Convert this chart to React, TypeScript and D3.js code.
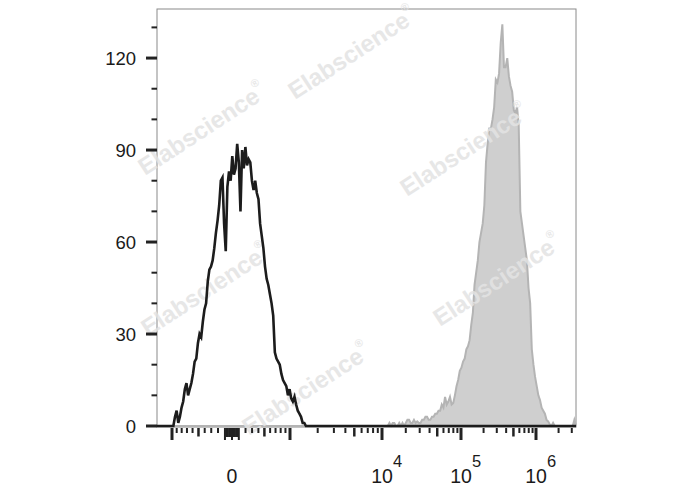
import React from "react";
import * as d3 from "d3";

const W = 688;
const H = 490;

// ---- data ----
const Y_MAJOR = [0, 30, 60, 90, 120];
const Y_MINOR = [10, 20, 40, 50, 70, 80, 100, 110, 130];
const X_MAJOR = [-1e3, 1e3, 1e4, 1e5, 1e6];
const X_MEDIUM = [-500, 500, 5e3, 5e4, 5e5];
const X_MINOR = [
  -900, -800, -700, -600, -400, -300, -200, 200, 300, 400, 600, 700, 800, 900,
  2e3, 3e3, 4e3, 6e3, 7e3, 8e3, 9e3,
  2e4, 3e4, 4e4, 6e4, 7e4, 8e4, 9e4,
  2e5, 3e5, 4e5, 6e5, 7e5, 8e5, 9e5,
  2e6, 3e6,
];
const X_ZERO_BLOCK = [-100, -80, -60, -40, -20, 0, 20, 40, 60, 80, 100];
const X_LABELS = [
  { v: 0, base: "0", exp: "" },
  { v: 1e4, base: "10", exp: "4" },
  { v: 1e5, base: "10", exp: "5" },
  { v: 1e6, base: "10", exp: "6" },
];

const CHANNELS = 256;
const BLACK_START = 9;
const BLACK_COUNTS = [
  0, 0, 3, 5, 1, 3, 6, 8, 12, 14, 10, 12, 14, 17, 21, 22, 27, 30, 29, 34,
  38, 40, 47, 51, 52, 54, 58, 63, 67, 72, 80, 81, 66, 57, 78, 83, 80, 88, 82, 84,
  92, 86, 70, 90, 84, 91, 85, 87, 86, 80, 77, 80, 76, 74, 66, 62, 58, 52, 48, 46,
  43, 40, 36, 24, 22, 21, 20, 17, 15, 14, 13, 10, 12, 9, 8, 9.5, 7, 5, 4, 3,
  1, 1, 0, 0,
];
const GRAY_START = 140;
const GRAY_COUNTS = [
  0, 0, 1, 0, 1, 1, 0, 0, 1, 0, 1, 0, 1, 2, 2, 1, 1, 2, 1, 1.5,
  1, 1, 2, 2, 3, 3, 2, 2, 3, 3, 4, 4, 5, 5, 7, 6, 9.5, 7, 8, 9.5,
  7, 7.5, 10, 13, 15, 18, 19, 21, 22, 25, 26, 28, 33, 37, 46, 50, 54, 60, 63, 66,
  72, 86, 92, 97, 97, 100, 104, 113, 112, 115, 125, 131, 117, 117, 120, 114, 111, 109, 103, 102,
  104, 98, 70, 66, 62, 58, 54, 45, 40, 25, 20, 16, 13, 10, 8.5, 6, 5, 4, 2, 1.5,
  0.5, 0, 1, 0, 0, 0, 0, 0, 0, 0, 0, 0, 0, 0, 0, 2,
];

const WATERMARKS = [
  { cx: 352, cy: 53 },
  { cx: 202, cy: 129 },
  { cx: 464, cy: 150 },
  { cx: 205, cy: 290 },
  { cx: 497, cy: 280 },
  { cx: 306, cy: 389 },
];

// ---- layout ----
const PL = 157, PR = 576, PT = 9, PB = 426;
const FONT = "'Liberation Sans', Arial, Helvetica, sans-serif";

const y = d3.scaleLinear().domain([0, 136]).range([PB, PT]);
const xCh = d3.scaleLinear().domain([0, CHANNELS]).range([PL, PR]);

// logicle-like display: asinh near zero, log above 10^3
const ASINH_C = 845;
const xInner = d3
  .scaleLinear()
  .domain([Math.asinh(-1000 / ASINH_C), 0, Math.asinh(1000 / ASINH_C)])
  .range([172, 232, 290]);
const xOuter = d3.scaleLog().domain([1e3, 1e4, 1e5, 1e6, 1e7]).range([290, 382, 461, 536, 611]);
const xVal = (v: number) => (Math.abs(v) <= 1000 ? xInner(Math.asinh(v / ASINH_C)) : xOuter(v));

function series(start: number, counts: number[]) {
  const pts: [number, number][] = [];
  for (let c = 0; c <= CHANNELS; c++) {
    const i = c - start;
    pts.push([c, i >= 0 && i < counts.length ? counts[i] : 0]);
  }
  return pts;
}

export default function App() {
  const black = series(BLACK_START, BLACK_COUNTS);
  const gray = series(GRAY_START, GRAY_COUNTS);
  const line = d3
    .line<[number, number]>()
    .x((d) => xCh(d[0]))
    .y((d) => y(d[1]));
  const area = d3
    .area<[number, number]>()
    .x((d) => xCh(d[0]))
    .y0(y(0))
    .y1((d) => y(d[1]));

  const tickY0 = PB + 2;
  return (
    <svg
      width={W}
      height={H}
      style={{ position: "absolute", left: 0, top: 0, background: "#fff" }}
      fontFamily={FONT}
    >
      <rect x={0} y={0} width={W} height={H} fill="#fff" />
      <rect x={PL} y={PT} width={PR - PL} height={PB - PT + 1} fill="none" stroke="#8a8a8a" strokeWidth={1} />

      {/* gray filled histogram */}
      <path d={area(gray) || ""} fill="#cfcfcf" stroke="none" />
      <path d={line(gray) || ""} fill="none" stroke="#b4b4b4" strokeWidth={2} />

      {/* watermarks */}
      {WATERMARKS.map((w, i) => (
        <text
          key={i}
          transform={`translate(${w.cx},${w.cy}) rotate(-33)`}
          textAnchor="middle"
          dominantBaseline="central"
          fontSize={24}
          fontWeight="bold"
          fill="#e3e3e3"
          opacity={0.85}
        >
          Elabscience
          <tspan fontSize={11} dy={-10}>®</tspan>
        </text>
      ))}

      {/* black outline histogram */}
      <path d={line(black) || ""} fill="none" stroke="#1c1c1c" strokeWidth={2.6} strokeLinejoin="miter" />

      {/* y axis ticks */}
      {Y_MAJOR.map((v) => (
        <line key={"ym" + v} x1={146} x2={PL} y1={y(v)} y2={y(v)} stroke="#222" strokeWidth={3} />
      ))}
      {Y_MINOR.map((v) => (
        <line key={"yn" + v} x1={151.5} x2={PL} y1={y(v)} y2={y(v)} stroke="#222" strokeWidth={2} />
      ))}
      {Y_MAJOR.map((v) => (
        <text key={"yl" + v} x={136} y={y(v) + 6.5} textAnchor="end" fontSize={18.5} fill="#1a1a1a">
          {v}
        </text>
      ))}

      {/* x axis ticks */}
      {X_MAJOR.map((v) => (
        <line key={"xm" + v} x1={xVal(v)} x2={xVal(v)} y1={tickY0} y2={tickY0 + 12} stroke="#222" strokeWidth={3} />
      ))}
      {X_MEDIUM.map((v) => (
        <line key={"xd" + v} x1={xVal(v)} x2={xVal(v)} y1={tickY0} y2={tickY0 + 8.5} stroke="#222" strokeWidth={2.5} />
      ))}
      {X_MINOR.map((v) => (
        <line key={"xn" + v} x1={xVal(v)} x2={xVal(v)} y1={tickY0} y2={tickY0 + 5} stroke="#222" strokeWidth={2} />
      ))}
      {X_ZERO_BLOCK.map((v, i) => (
        <line
          key={"xz" + v}
          x1={xVal(v)}
          x2={xVal(v)}
          y1={tickY0}
          y2={tickY0 + (i % 5 === 0 ? 12 : 9)}
          stroke="#222"
          strokeWidth={2}
        />
      ))}
      {X_LABELS.map((l) => (
        <g key={"xl" + l.v}>
          <text x={xVal(l.v)} y={483} textAnchor="middle" fontSize={19.5} fill="#1a1a1a">
            {l.base}
          </text>
          {l.exp && (
            <text x={xVal(l.v) + 11} y={467} textAnchor="start" fontSize={16.5} fill="#1a1a1a">
              {l.exp}
            </text>
          )}
        </g>
      ))}
    </svg>
  );
}
